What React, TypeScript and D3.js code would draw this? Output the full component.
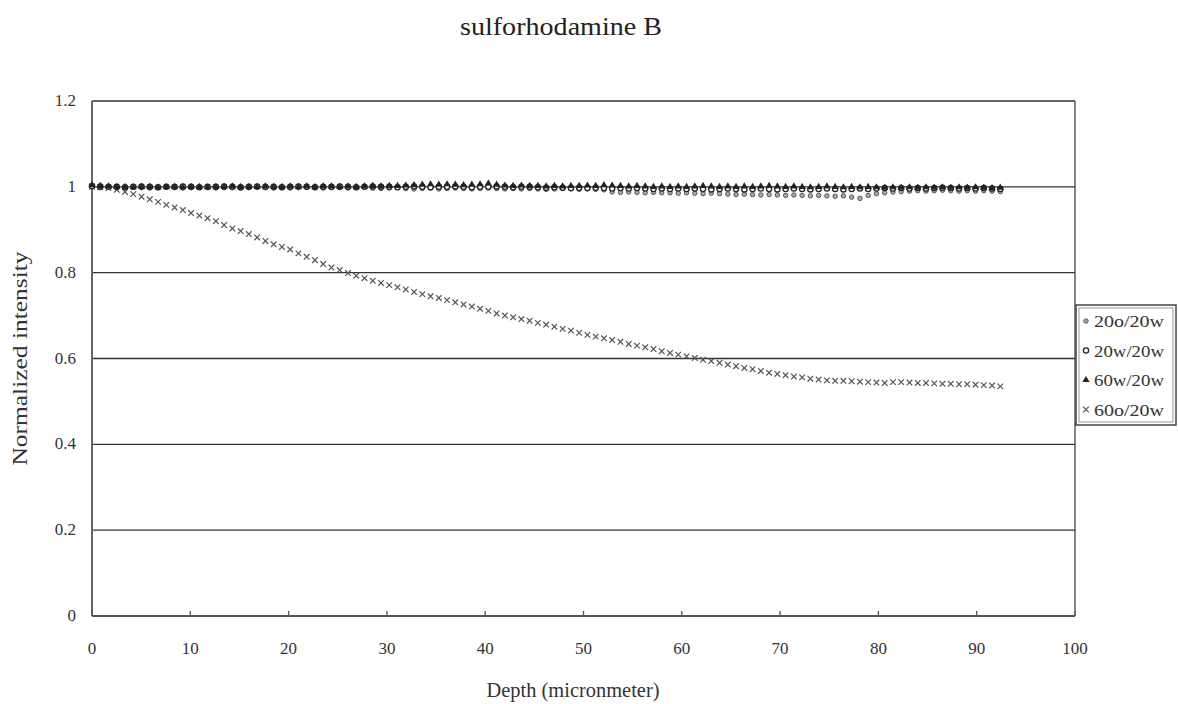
import React from 'react';
import * as d3 from 'd3';

// sampling step of the depth scan (micrometer)
const depthStep = 0.84;

const seriesNames = ['20o/20w', '20w/20w', '60w/20w', '60o/20w'];

const s20o20w = [
  1.000, 0.998, 0.999, 0.997, 0.998, 0.999, 0.998, 0.997, 0.998, 0.999,
  0.998, 0.997, 0.998, 0.999, 0.998, 0.997, 0.998, 0.998, 0.997, 0.998,
  0.999, 0.998, 0.997, 0.998, 0.997, 0.998, 0.999, 0.998, 0.997, 0.998,
  0.998, 0.997, 0.998, 0.999, 0.997, 0.996, 0.997, 0.998, 0.996, 0.995,
  0.996, 0.997, 0.995, 0.996, 0.997, 0.996, 0.995, 0.996, 0.997, 0.996,
  0.995, 0.996, 0.995, 0.996, 0.995, 0.994, 0.995, 0.996, 0.995, 0.994,
  0.995, 0.994, 0.993, 0.988, 0.987, 0.988, 0.987, 0.986, 0.987, 0.986,
  0.986, 0.985, 0.986, 0.985, 0.984, 0.985, 0.984, 0.983, 0.982, 0.983,
  0.982, 0.981, 0.982, 0.981, 0.980, 0.981, 0.980, 0.979, 0.980, 0.979,
  0.978, 0.979, 0.976, 0.973, 0.980, 0.984, 0.986, 0.988, 0.989, 0.990,
  0.991, 0.990, 0.991, 0.992, 0.991, 0.990, 0.991, 0.990, 0.991, 0.990, 0.989,
];

const s20w20w = [
  1.002, 1.001, 1.000, 1.000, 0.999, 1.000, 1.001, 1.000, 0.999, 1.000,
  1.000, 1.001, 1.000, 0.999, 1.000, 1.000, 1.001, 1.000, 0.999, 1.000,
  1.001, 1.000, 1.000, 0.999, 1.000, 1.001, 1.000, 0.999, 1.000, 1.000,
  1.001, 1.000, 0.999, 1.000, 1.001, 1.000, 1.000, 0.999, 1.000, 1.001,
  1.000, 0.999, 1.000, 1.000, 1.001, 1.000, 0.999, 1.000, 1.000, 1.001,
  1.000, 0.999, 1.000, 1.000, 0.999, 0.998, 0.999, 0.998, 0.997, 0.998,
  0.997, 0.998, 0.997, 0.996, 0.997, 0.996, 0.997, 0.996, 0.995, 0.996,
  0.995, 0.996, 0.995, 0.996, 0.995, 0.994, 0.995, 0.996, 0.995, 0.994,
  0.995, 0.996, 0.995, 0.994, 0.995, 0.996, 0.995, 0.994, 0.995, 0.996,
  0.995, 0.994, 0.995, 0.996, 0.995, 0.996, 0.997, 0.996, 0.997, 0.996,
  0.997, 0.996, 0.997, 0.998, 0.997, 0.996, 0.997, 0.996, 0.997, 0.996, 0.995,
];

const s60w20w = [
  1.004, 1.002, 1.001, 1.000, 1.000, 0.999, 1.000, 1.000, 0.999, 1.000,
  1.000, 0.999, 1.000, 1.000, 0.999, 1.000, 1.000, 1.001, 1.000, 1.000,
  1.000, 1.001, 1.000, 1.000, 1.001, 1.000, 1.001, 1.000, 1.001, 1.001,
  1.000, 1.001, 1.000, 1.001, 1.002, 1.001, 1.002, 1.002, 1.003, 1.004,
  1.005, 1.006, 1.005, 1.006, 1.005, 1.004, 1.005, 1.006, 1.008, 1.005,
  1.003, 1.002, 1.003, 1.002, 1.002, 1.001, 1.002, 1.001, 1.002, 1.002,
  1.003, 1.002, 1.004, 1.003, 1.002, 1.001, 1.002, 1.001, 1.000, 1.001,
  1.000, 1.001, 1.000, 1.001, 1.002, 1.001, 1.000, 1.001, 1.000, 1.001,
  1.000, 1.001, 1.002, 1.001, 1.000, 1.001, 1.000, 0.999, 1.000, 1.001,
  1.000, 0.999, 1.000, 0.999, 1.000, 0.999, 0.998, 0.999, 0.998, 0.999,
  0.998, 0.999, 0.998, 0.999, 0.998, 0.999, 0.998, 0.999, 0.998, 0.997, 0.998,
];

const s60o20w = [
  1.000, 0.999, 0.997, 0.993, 0.988, 0.983, 0.977, 0.971, 0.965, 0.958,
  0.952, 0.946, 0.939, 0.933, 0.927, 0.920, 0.911, 0.903, 0.897, 0.890,
  0.882, 0.874, 0.866, 0.860, 0.854, 0.845, 0.837, 0.829, 0.820, 0.812,
  0.806, 0.799, 0.793, 0.787, 0.781, 0.776, 0.771, 0.766, 0.761, 0.755,
  0.750, 0.745, 0.741, 0.736, 0.731, 0.726, 0.721, 0.716, 0.711, 0.705,
  0.700, 0.696, 0.692, 0.688, 0.683, 0.679, 0.674, 0.669, 0.665, 0.660,
  0.655, 0.651, 0.647, 0.643, 0.639, 0.634, 0.630, 0.626, 0.622, 0.617,
  0.613, 0.609, 0.605, 0.601, 0.597, 0.594, 0.590, 0.586, 0.582, 0.578,
  0.575, 0.571, 0.567, 0.564, 0.561, 0.558, 0.556, 0.553, 0.551, 0.549,
  0.548, 0.548, 0.547, 0.546, 0.545, 0.544, 0.543, 0.545, 0.545, 0.544,
  0.543, 0.543, 0.542, 0.541, 0.541, 0.540, 0.540, 0.539, 0.538, 0.537, 0.535,
];

const xTicks = [0, 10, 20, 30, 40, 50, 60, 70, 80, 90, 100];
const yTicks = [0, 0.2, 0.4, 0.6, 0.8, 1, 1.2];

const W = 1178;
const H = 704;
const margin = {top: 101, right: 103, bottom: 88, left: 92};

const font = '"Liberation Serif", "DejaVu Serif", serif';

function Marker({kind, x, y}: {kind: string; x: number; y: number}) {
  if (kind === '20o/20w') {
    return <circle cx={x} cy={y} r={2.2} fill="#aaa" stroke="#555" strokeWidth={1} />;
  }
  if (kind === '20w/20w') {
    return <circle cx={x} cy={y} r={2.6} fill="#fff" stroke="#222" strokeWidth={1.3} />;
  }
  if (kind === '60w/20w') {
    return <path d={d3.symbol(d3.symbolTriangle, 22)()!} transform={`translate(${x},${y})`} fill="#222" />;
  }
  const s = 2.8;
  return (
    <path
      d={`M${x - s},${y - s}L${x + s},${y + s}M${x - s},${y + s}L${x + s},${y - s}`}
      stroke="#555"
      strokeWidth={1.2}
      fill="none"
    />
  );
}

export default function App() {
  const width = W - margin.left - margin.right;
  const height = H - margin.top - margin.bottom;

  const x = d3.scaleLinear().domain([0, 100]).range([margin.left, margin.left + width]);
  const y = d3.scaleLinear().domain([0, 1.2]).range([margin.top + height, margin.top]);

  const series = [s20o20w, s20w20w, s60w20w, s60o20w];
  // draw order: decaying series and dip first, then the flat ones on top
  const drawOrder = [3, 0, 1, 2];

  return (
    <svg width={W} height={H} style={{position: 'absolute', left: 0, top: 0, background: '#fff'}} fontFamily={font}>
      <text x={561} y={35} textAnchor="middle" fontSize={25} fill="#222" textLength={202} lengthAdjust="spacingAndGlyphs">
        sulforhodamine B
      </text>

      {/* gridlines */}
      {yTicks.filter(t => t > 0).map(t => (
        <line key={t} x1={x(0)} x2={x(100)} y1={y(t)} y2={y(t)} stroke="#333" strokeWidth={1.3} />
      ))}
      {/* frame */}
      <line x1={x(100)} x2={x(100)} y1={y(0)} y2={y(1.2)} stroke="#444" strokeWidth={1.3} />
      <line x1={x(0)} x2={x(0)} y1={y(0)} y2={y(1.2)} stroke="#666" strokeWidth={2} />
      <line x1={x(0)} x2={x(100)} y1={y(0)} y2={y(0)} stroke="#555" strokeWidth={2} />

      {xTicks.map(t => (
        <g key={t}>
          <line x1={x(t)} x2={x(t)} y1={y(0)} y2={y(0) - 5} stroke="#555" strokeWidth={1.3} />
          <text x={x(t)} y={y(0) + 38} textAnchor="middle" fontSize={17} fill="#333">{t}</text>
        </g>
      ))}
      {yTicks.map(t => (
        <text key={t} x={76} y={y(t) + 5} textAnchor="end" fontSize={17} fill="#333">{t}</text>
      ))}

      <text x={573} y={697} textAnchor="middle" fontSize={20} fill="#333" textLength={173} lengthAdjust="spacingAndGlyphs">
        Depth (micronmeter)
      </text>
      <text
        transform={`translate(27,${y(0.6)}) rotate(-90)`}
        textAnchor="middle"
        fontSize={22}
        fill="#333"
        textLength={214}
        lengthAdjust="spacingAndGlyphs"
      >
        Normalized intensity
      </text>

      {drawOrder.map(si => (
        <g key={si}>
          {series[si].map((v, i) => (
            <Marker key={i} kind={seriesNames[si]} x={x(i * depthStep)} y={y(v)} />
          ))}
        </g>
      ))}

      {/* legend */}
      <rect x={1076} y={305} width={100} height={120} fill="#fff" stroke="#444" strokeWidth={1.5} />
      <rect x={1079} y={308} width={94} height={114} fill="none" stroke="#999" strokeWidth={1} />
      {seriesNames.map((n, i) => (
        <g key={n}>
          <Marker kind={n} x={1086} y={321 + i * 29.5} />
          <text x={1094} y={321 + i * 29.5 + 6} fontSize={17} fill="#333" textLength={70} lengthAdjust="spacingAndGlyphs">
            {n}
          </text>
        </g>
      ))}
    </svg>
  );
}
